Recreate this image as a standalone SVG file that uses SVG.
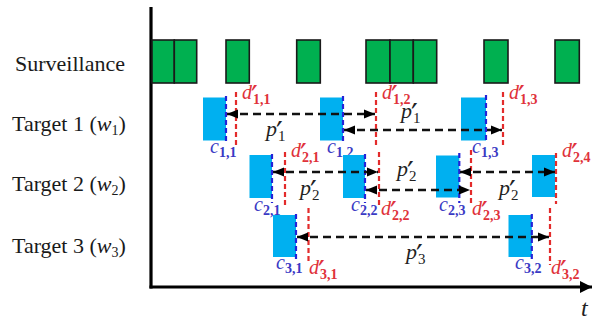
<svg xmlns="http://www.w3.org/2000/svg" width="593" height="322" viewBox="0 0 593 322">
  <style>
    .lbl { font-family: "Liberation Serif", "Times New Roman", serif; font-size: 22px; fill: #1a1a1a; }
    .m { font-family: "Liberation Serif", "Times New Roman", serif; font-style: italic; font-size: 20px; }
    .sub { font-style: normal; font-size: 14px; font-weight: bold; }
    .ps { font-style: normal; font-size: 15px; }
    .pr { font-style: normal; font-family: "DejaVu Sans", sans-serif; font-size: 30px; }
    .red { fill: #e0323a; }
    .blu { fill: #3a3ac4; }
    .blk { fill: #222; }
    .slot { fill: #00b050; stroke: #1a1a1a; stroke-width: 1.6; }
    .job { fill: #00b0f0; }
    .cl { stroke: #2323d8; stroke-width: 2.2; stroke-dasharray: 5 3; }
    .dl { stroke: #e32b2b; stroke-width: 2.2; stroke-dasharray: 5 3; }
    .per { stroke: #111; stroke-width: 2.4; stroke-dasharray: 8 5; fill: none; }
    .axis { stroke: #000; stroke-width: 3.2; fill: none; }
  </style>
  <defs>
    <marker id="ah" markerUnits="userSpaceOnUse" markerWidth="12" markerHeight="12" viewBox="0 0 12 12" refX="11" refY="6" orient="auto-start-reverse">
      <path d="M0,1.5 L11,6 L0,10.5 Z" fill="#000"/>
    </marker>
    <marker id="ax" markerUnits="userSpaceOnUse" markerWidth="12" markerHeight="14" viewBox="0 0 12 14" refX="12" refY="7" orient="auto">
      <path d="M0,1 L12,7 L0,13 Z" fill="#000"/>
    </marker>
  </defs>

  <!-- axes -->
  <g id="axes">
    <line class="axis" x1="151" y1="7" x2="151" y2="288.5"/>
    <line class="axis" x1="149.5" y1="287" x2="592" y2="287" marker-end="url(#ax)"/>
    <text class="m blk" x="581" y="316" style="font-size:24px">t</text>
  </g>

  <!-- row labels -->
  <g id="row-surveillance"><text class="lbl" x="15" y="70.5">Surveillance</text></g>
  <g id="row-target1"><text class="lbl" x="12" y="130.5">Target 1 (<tspan font-style="italic">w</tspan><tspan font-size="14" dy="4">1</tspan><tspan dy="-4">)</tspan></text></g>
  <g id="row-target2"><text class="lbl" x="12" y="191">Target 2 (<tspan font-style="italic">w</tspan><tspan font-size="14" dy="4">2</tspan><tspan dy="-4">)</tspan></text></g>
  <g id="row-target3"><text class="lbl" x="12" y="252.5">Target 3 (<tspan font-style="italic">w</tspan><tspan font-size="14" dy="4">3</tspan><tspan dy="-4">)</tspan></text></g>

  <!-- surveillance slots -->
  <g id="surveillance">
    <rect class="slot" x="152" y="40" width="22.3" height="43"/>
    <rect class="slot" x="174.3" y="40" width="22.4" height="43"/>
    <rect class="slot" x="226" y="40" width="23.3" height="43"/>
    <rect class="slot" x="296.7" y="40" width="23.6" height="43"/>
    <rect class="slot" x="366" y="40" width="24" height="43"/>
    <rect class="slot" x="390" y="40" width="23.3" height="43"/>
    <rect class="slot" x="413.3" y="40" width="23.4" height="43"/>
    <rect class="slot" x="484" y="40" width="24" height="43"/>
    <rect class="slot" x="555" y="40" width="24.3" height="43"/>
  </g>

  <!-- target 1 jobs -->
  <g id="job-1-1">
    <rect class="job" x="203" y="97.5" width="23" height="43"/>
    <line class="cl" x1="226" y1="96" x2="226" y2="143"/>
    <line class="dl" x1="236" y1="92" x2="236" y2="146"/>
    <text class="m red" x="242" y="99">d<tspan class="pr" x="251" dy="8">′</tspan><tspan class="sub" x="253" dy="-3">1,1</tspan></text>
    <text class="m blu" x="210" y="153">c<tspan class="sub" dy="4">1,1</tspan></text>
  </g>
  <g id="job-1-2">
    <rect class="job" x="320" y="97.5" width="23" height="43"/>
    <line class="cl" x1="343" y1="96" x2="343" y2="143"/>
    <line class="dl" x1="376" y1="92" x2="376" y2="146"/>
    <text class="m red" x="382" y="99">d<tspan class="pr" x="391" dy="8">′</tspan><tspan class="sub" x="393" dy="-3">1,2</tspan></text>
    <text class="m blu" x="327" y="153">c<tspan class="sub" dy="4">1,2</tspan></text>
  </g>
  <g id="job-1-3">
    <rect class="job" x="461" y="97.5" width="25" height="43"/>
    <line class="cl" x1="486" y1="95" x2="486" y2="142"/>
    <line class="dl" x1="503" y1="92" x2="503" y2="147"/>
    <text class="m red" x="509" y="99">d<tspan class="pr" x="518" dy="8">′</tspan><tspan class="sub" x="520" dy="-3">1,3</tspan></text>
    <text class="m blu" x="472" y="153">c<tspan class="sub" dy="4">1,3</tspan></text>
  </g>

  <!-- target 2 jobs -->
  <g id="job-2-1">
    <rect class="job" x="249.5" y="155" width="22.5" height="43"/>
    <line class="cl" x1="272" y1="154" x2="272" y2="203"/>
    <line class="dl" x1="285" y1="152" x2="285" y2="205"/>
    <text class="m red" x="291" y="157">d<tspan class="pr" x="300" dy="8">′</tspan><tspan class="sub" x="302" dy="-3">2,1</tspan></text>
    <text class="m blu" x="254" y="211">c<tspan class="sub" dy="4">2,1</tspan></text>
  </g>
  <g id="job-2-2">
    <rect class="job" x="343" y="155" width="22" height="43"/>
    <line class="cl" x1="365" y1="154" x2="365" y2="203"/>
    <line class="dl" x1="379" y1="152" x2="379" y2="205"/>
    <text class="m red" x="381" y="215">d<tspan class="pr" x="390" dy="8">′</tspan><tspan class="sub" x="392" dy="-3">2,2</tspan></text>
    <text class="m blu" x="351" y="211">c<tspan class="sub" dy="4">2,2</tspan></text>
  </g>
  <g id="job-2-3">
    <rect class="job" x="436" y="155.5" width="23.3" height="42"/>
    <line class="cl" x1="459.3" y1="153" x2="459.3" y2="203"/>
    <line class="dl" x1="471" y1="150" x2="471" y2="203"/>
    <text class="m red" x="472" y="215">d<tspan class="pr" x="481" dy="8">′</tspan><tspan class="sub" x="483" dy="-3">2,3</tspan></text>
    <text class="m blu" x="439" y="211">c<tspan class="sub" dy="4">2,3</tspan></text>
  </g>
  <g id="job-2-4">
    <rect class="job" x="532" y="155" width="23" height="42"/>
    <line class="dl" x1="556" y1="153" x2="556" y2="204"/>
    <text class="m red" x="562" y="157">d<tspan class="pr" x="571" dy="8">′</tspan><tspan class="sub" x="573" dy="-3">2,4</tspan></text>
  </g>

  <!-- target 3 jobs -->
  <g id="job-3-1">
    <rect class="job" x="273" y="215" width="23" height="42"/>
    <line class="cl" x1="296" y1="214" x2="296" y2="260"/>
    <line class="dl" x1="308.5" y1="208" x2="308.5" y2="263"/>
    <text class="m red" x="309" y="274">d<tspan class="pr" x="318" dy="8">′</tspan><tspan class="sub" x="320" dy="-3">3,1</tspan></text>
    <text class="m blu" x="276" y="269">c<tspan class="sub" dy="4">3,1</tspan></text>
  </g>
  <g id="job-3-2">
    <rect class="job" x="508.5" y="215" width="23.3" height="42"/>
    <line class="cl" x1="531.8" y1="214" x2="531.8" y2="260"/>
    <line class="dl" x1="550" y1="208" x2="550" y2="265"/>
    <text class="m red" x="551" y="274">d<tspan class="pr" x="560" dy="8">′</tspan><tspan class="sub" x="562" dy="-3">3,2</tspan></text>
    <text class="m blu" x="515" y="269">c<tspan class="sub" dy="4">3,2</tspan></text>
  </g>

  <!-- period connectors -->
  <g id="connectors">
    <line class="per" x1="227" y1="114" x2="375" y2="114" marker-start="url(#ah)" marker-end="url(#ah)"/>
    <line class="per" x1="344" y1="130" x2="502" y2="130" marker-start="url(#ah)" marker-end="url(#ah)"/>
    <line class="per" x1="273" y1="172" x2="378" y2="172" marker-start="url(#ah)" marker-end="url(#ah)"/>
    <line class="per" x1="366" y1="190" x2="470" y2="190" marker-start="url(#ah)" marker-end="url(#ah)"/>
    <line class="per" x1="460" y1="172" x2="555" y2="172" marker-start="url(#ah)" marker-end="url(#ah)"/>
    <line class="per" x1="297" y1="237" x2="549" y2="237" marker-start="url(#ah)" marker-end="url(#ah)"/>
    <text class="m blk" x="266" y="136" style="font-size:22px">p<tspan class="pr" x="276" dy="7">′</tspan><tspan class="ps" x="278" dy="-2">1</tspan></text>
    <text class="m blk" x="401" y="118" style="font-size:22px">p<tspan class="pr" x="411" dy="7">′</tspan><tspan class="ps" x="413" dy="-2">1</tspan></text>
    <text class="m blk" x="300" y="195" style="font-size:22px">p<tspan class="pr" x="310" dy="7">′</tspan><tspan class="ps" x="312" dy="-2">2</tspan></text>
    <text class="m blk" x="397" y="176" style="font-size:22px">p<tspan class="pr" x="407" dy="7">′</tspan><tspan class="ps" x="409" dy="-2">2</tspan></text>
    <text class="m blk" x="499" y="195" style="font-size:22px">p<tspan class="pr" x="509" dy="7">′</tspan><tspan class="ps" x="511" dy="-2">2</tspan></text>
    <text class="m blk" x="406" y="259" style="font-size:22px">p<tspan class="pr" x="416" dy="7">′</tspan><tspan class="ps" x="418" dy="-2">3</tspan></text>
  </g>
</svg>
